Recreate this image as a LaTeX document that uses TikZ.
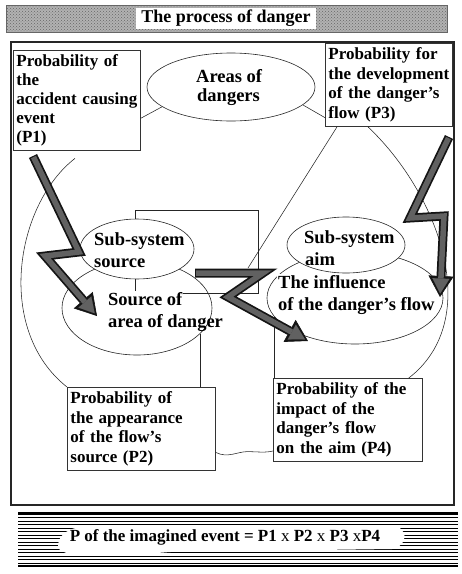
\documentclass[tikz,border=0pt]{standalone}
\usepackage{fontspec}
\setmainfont{Liberation Serif}
\usetikzlibrary{arrows.meta,calc,shapes.geometric,patterns}
\begin{document}
\begin{tikzpicture}[x=1pt,y=-1pt,
  fine/.style={line width=0.55pt, draw=black!85},
  probbox/.style={draw=black!80, line width=0.8pt, fill=white, anchor=north west,
    align=left, inner xsep=3pt, inner ysep=4.5pt,
    font=\bfseries\fontsize{17}{19.5}\selectfont},
  zone/.style={draw=black!85, line width=0.6pt, ellipse, inner sep=0pt},
  zonetext/.style={inner sep=1pt, anchor=base west, font=\bfseries\fontsize{18.5}{22}\selectfont},
  boltout/.style={line width=9pt, draw=black!92, line join=miter, miter limit=5,
    -{Triangle[length=21pt,width=25pt,line width=0.6pt]}},
  boltin/.style={line width=5.5pt, draw=black!62, line join=miter, miter limit=5,
    shorten >=3.5pt, shorten <=1.2pt,
    -{Triangle[length=15pt,width=17pt,line width=0.1pt]}}
]
\useasboundingbox (0,0) rectangle (462,574);

% title strip
\draw[black!60, fill=black!30] (6,5) rectangle (447,32);
\fill[pattern=crosshatch dots, pattern color=black!60] (6,5) rectangle (447,32);
\node[fill=white, inner xsep=5pt, inner ysep=2.5pt,
  font=\bfseries\fontsize{18}{20}\selectfont] (title) at (226,18.5) {The process of danger};

% outer frame
\draw[line width=1.1pt, black!85] (11,42) rectangle (454,505);

% probability boxes
\node[probbox, text width=121pt, inner ysep=4pt,
  font=\bfseries\fontsize{17}{19}\selectfont] (p1) at (13,50) {Probability of\\the\\accident causing\\event\\(P1)};
\node[probbox, text width=121pt] (p3) at (325,43) {Probability for\\the development\\of the danger's\\flow (P3)};
\node[probbox, text width=142pt] (p2) at (67,387) {Probability of\\the appearance\\of the flow's\\source (P2)};
\node[probbox, text width=143pt] (p4) at (273,378) {Probability of the\\impact of the\\danger's flow\\on the aim (P4)};

% large enclosing arcs
\draw[fine] ($(p1.south west)+(62,8)$) .. controls (15,205) and (-5,330) .. (p2.north west);
\draw[fine] ($(p3.south west)+(43,0)$) .. controls (440,195) and (484,320) .. ($(p4.north east)+(-14,0)$);

% areas of dangers
\node[zone, fill=white, minimum width=168pt, minimum height=68pt] (areas) at (231,87) {};
\node[zonetext] (areas1) at (195,82) {Areas of};
\node[zonetext] (areas2) at (196,101) {dangers};
\draw[fine] ($(p1.south east)!0.32!(p1.north east)$) -- (areas.196);
\draw[fine] (areas.346) -- ($(p3.south west)!0.11!(p3.north west)$);

% zones of the source and of the aim
\node[zone, minimum width=150pt, minimum height=94pt] (srcarea) at (137,308) {};
\node[zone, minimum width=176pt, minimum height=92pt] (influence) at (355,298) {};
\draw[fine] (135,210) rectangle (258,293);
\node[zone, fill=white, minimum width=114pt, minimum height=60pt] (subsrc) at (137,249) {};
\node[zone, fill=white, minimum width=118pt, minimum height=56pt] (subaim) at (346,245) {};

\node[zonetext] (subsrc1) at (93,245) {Sub-system};
\node[zonetext] (subsrc2) at (93,267) {source};
\node[zonetext, fill=white] (srcarea1) at (107,305) {Source of};
\node[zonetext] (srcarea2) at (107,327) {area of danger};
\node[zonetext] (subaim1) at (303,243) {Sub-system};
\node[zonetext] (subaim2) at (304,265) {aim};
\node[zonetext, fill=white] (infl1) at (277,288) {The influence};
\node[zonetext] (infl2) at (277,310) {of the danger's flow};

% thin links
\coordinate (midtop) at (248,268);
\draw[fine] ($(p3.south west)+(12,0)$) -- (midtop);
\draw[fine] (srcarea.338) -- (srcarea.338 |- p2.north);
\draw[fine] (influence.193) -- (influence.193 |- p4.north);
\coordinate (sq1) at ($(p2.south east)!0.22!(p2.north east)$);
\coordinate (sq2) at ($(p4.south west)!0.13!(p4.north west)$);
\draw[fine] (sq1) .. controls +(12,6) and +(-10,0) .. ($(sq1)!0.55!(sq2)$)
  .. controls +(10,0) and +(-8,2) .. (sq2);

% lightning arrows of the danger flow
\coordinate (a1) at (33,156); \coordinate (a2) at (79,252);
\coordinate (a3) at (45,256); \coordinate (a4) at (97,316);
\coordinate (b1) at (449,137); \coordinate (b2) at (410,218);
\coordinate (b3) at (444,216); \coordinate (b4) at (440,297);
\coordinate (c1) at (195,273); \coordinate (c2) at (263,273);
\coordinate (c3) at (228,297); \coordinate (c4) at (308,341);
\foreach \p in {a,b,c} {
  \draw[boltout] (\p1) -- (\p2) -- (\p3) -- (\p4);
  \draw[boltin] (\p1) -- (\p2) -- (\p3) -- (\p4);
}

% formula strip
\foreach \yy in {514,517.5,...,564} \draw[line width=1pt] (18,\yy) -- (458,\yy);
\draw[line width=1.4pt] (18,513) -- (458,513);
\draw[line width=1.4pt] (18,566) -- (458,566);
\fill[white] (58,547) .. controls (58,533) and (70,527) .. (90,526) -- (390,525)
  .. controls (408,526) and (410,545) .. (392,549) -- (170,552)
  .. controls (120,556) and (62,560) .. (58,547) -- cycle;
\node[font=\bfseries\fontsize{17}{20}\selectfont, inner sep=1pt] (formula) at (225,537)
  {P of the imagined event = P1 {\mdseries x} P2 {\mdseries x} P3 {\mdseries x}P4};
\end{tikzpicture}
\end{document}
